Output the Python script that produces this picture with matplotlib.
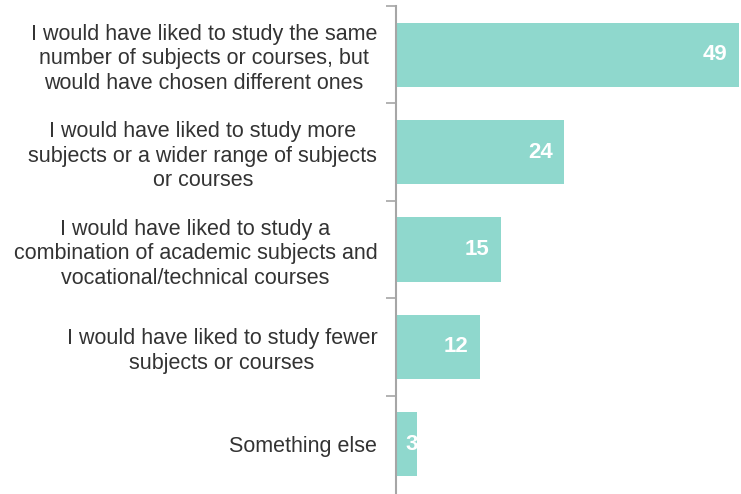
import matplotlib
matplotlib.use('Agg')
import matplotlib.pyplot as plt
import numpy as np

categories = [
    'I would have liked to study the same\nnumber of subjects or courses, but\nwould have chosen different ones',
    'I would have liked to study more\nsubjects or a wider range of subjects\nor courses',
    'I would have liked to study a\ncombination of academic subjects and\nvocational/technical courses',
    'I would have liked to study fewer\nsubjects or courses',
    'Something else',
]
values = [49, 24, 15, 12, 3]

bar_color = '#8fd8cd'
text_color = '#333333'
axis_color = '#a6a6a6'

plt.rcParams['font.family'] = ['Liberation Sans', 'DejaVu Sans']

fig = plt.figure(figsize=(7.41, 4.94), dpi=100)
ax = fig.add_axes([396 / 741, 1 - 493 / 494, 343 / 741, 487 / 494])

y = np.arange(len(categories))
ax.barh(y, values, height=0.66, color=bar_color)

for yi, v in zip(y, values):
    if v < 5:
        ax.text(1.3, yi, str(v), ha='left', va='center', color='white',
                fontsize=16, fontweight='bold', clip_on=True)
    else:
        ax.text(v - 1.6, yi, str(v), ha='right', va='center', color='white',
                fontsize=16, fontweight='bold')

ax.set_xlim(0, 49)
ax.set_ylim(len(categories) - 0.5, -0.5)
ax.set_yticks(y)
ax.set_yticklabels(categories, fontsize=15.5, color=text_color,
                   multialignment='center', linespacing=1.22)
ax.tick_params(axis='y', which='major', length=0, pad=13.5)
# boundary ticks between categories (none at the very bottom)
ax.set_yticks(np.arange(len(categories)) - 0.5, minor=True)
ax.tick_params(axis='y', which='minor', length=7, width=1.2, color=axis_color)
ax.set_xticks([])

for s in ['top', 'right', 'bottom']:
    ax.spines[s].set_visible(False)
ax.spines['left'].set_color(axis_color)
ax.spines['left'].set_linewidth(1.5)
ax.set_zorder(1)

fig.savefig('out.png', dpi=100)
